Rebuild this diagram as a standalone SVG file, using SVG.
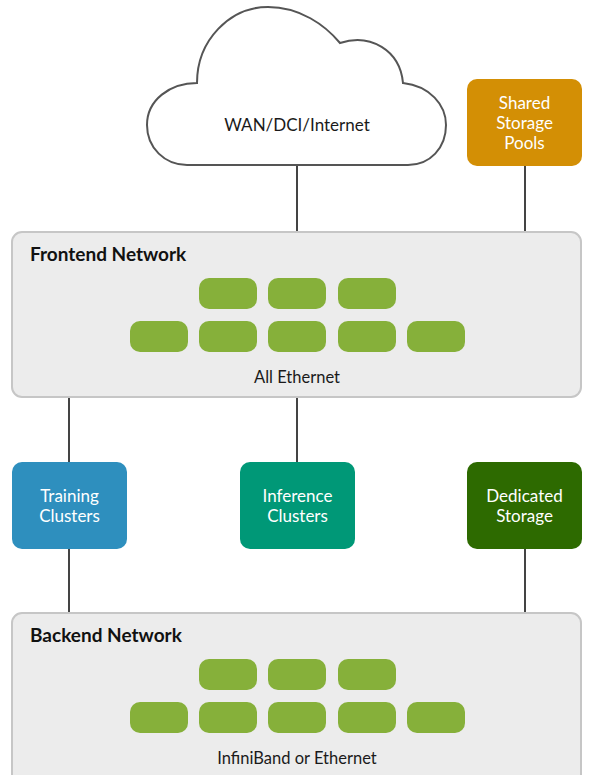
<svg xmlns="http://www.w3.org/2000/svg" width="593" height="775" viewBox="0 0 593 775">
  <style>
    .net { fill: #ececec; stroke: #c6c6c6; stroke-width: 2; }
    .sw { fill: #86b03a; }
    .title { font-family: Lato, "Open Sans", "Liberation Sans", sans-serif; font-weight: bold; font-size: 19px; fill: #111; }
    .cap { font-family: Lato, "Open Sans", "Liberation Sans", sans-serif; font-size: 16.5px; fill: #1a1a1a; text-anchor: middle; }
    .lbl { font-family: Lato, "Open Sans", "Liberation Sans", sans-serif; font-size: 17px; fill: #fff; text-anchor: middle; }
    .wire { stroke: #444; stroke-width: 2; fill: none; }
  </style>
  <defs>
    <!-- one switch tile; placed by <use> inside each network -->
    <rect id="switch" class="sw" width="58" height="31" rx="10"/>
  </defs>

  <g id="connectors">
    <line class="wire" x1="297" y1="164" x2="297" y2="233"/>
    <line class="wire" x1="525" y1="165" x2="525" y2="233"/>
    <line class="wire" x1="69" y1="397" x2="69" y2="463"/>
    <line class="wire" x1="297" y1="397" x2="297" y2="463"/>
    <line class="wire" x1="69" y1="548" x2="69" y2="614"/>
    <line class="wire" x1="525" y1="548" x2="525" y2="614"/>
  </g>

  <g id="wan">
    <path d="M 197 83 C 197 40 230 7 268 7 C 300 7 325 25 340 43 C 370 33 400 50 403 83 C 430 86 446 105 446 125 C 446 148 430 165 408 165 L 187 165 C 165 165 147 148 147 125 C 147 100 170 83 197 83 Z" fill="#fff" stroke="#555" stroke-width="2"/>
    <text class="cap" x="297" y="131" style="font-size:17px">WAN/DCI/Internet</text>
  </g>

  <g id="shared-storage">
    <rect x="467" y="79" width="115" height="87" rx="10" fill="#d38f05"/>
    <text class="lbl" x="524.5" y="109">Shared</text>
    <text class="lbl" x="524.5" y="129">Storage</text>
    <text class="lbl" x="524.5" y="149">Pools</text>
  </g>

  <g id="frontend">
    <rect class="net" x="12" y="232" width="569" height="165" rx="10"/>
    <text class="title" x="30" y="261">Frontend Network</text>
    <use href="#switch" x="199" y="278"/>
    <use href="#switch" x="268" y="278"/>
    <use href="#switch" x="338" y="278"/>
    <use href="#switch" x="130" y="321"/>
    <use href="#switch" x="199" y="321"/>
    <use href="#switch" x="268" y="321"/>
    <use href="#switch" x="338" y="321"/>
    <use href="#switch" x="407" y="321"/>
    <text class="cap" x="297" y="383">All Ethernet</text>
  </g>

  <g id="training">
    <rect x="12" y="462" width="115" height="87" rx="10" fill="#2e8fbe"/>
    <text class="lbl" x="69.5" y="502">Training</text>
    <text class="lbl" x="69.5" y="522">Clusters</text>
  </g>

  <g id="inference">
    <rect x="240" y="462" width="115" height="87" rx="10" fill="#009877"/>
    <text class="lbl" x="297.5" y="502">Inference</text>
    <text class="lbl" x="297.5" y="522">Clusters</text>
  </g>

  <g id="dedicated-storage">
    <rect x="467" y="462" width="115" height="87" rx="10" fill="#2d6a00"/>
    <text class="lbl" x="524.5" y="502">Dedicated</text>
    <text class="lbl" x="524.5" y="522">Storage</text>
  </g>

  <g id="backend">
    <rect class="net" x="12" y="613" width="569" height="175" rx="10"/>
    <text class="title" x="30" y="642">Backend Network</text>
    <use href="#switch" x="199" y="659"/>
    <use href="#switch" x="268" y="659"/>
    <use href="#switch" x="338" y="659"/>
    <use href="#switch" x="130" y="702"/>
    <use href="#switch" x="199" y="702"/>
    <use href="#switch" x="268" y="702"/>
    <use href="#switch" x="338" y="702"/>
    <use href="#switch" x="407" y="702"/>
    <text class="cap" x="297" y="764">InfiniBand or Ethernet</text>
  </g>
</svg>
